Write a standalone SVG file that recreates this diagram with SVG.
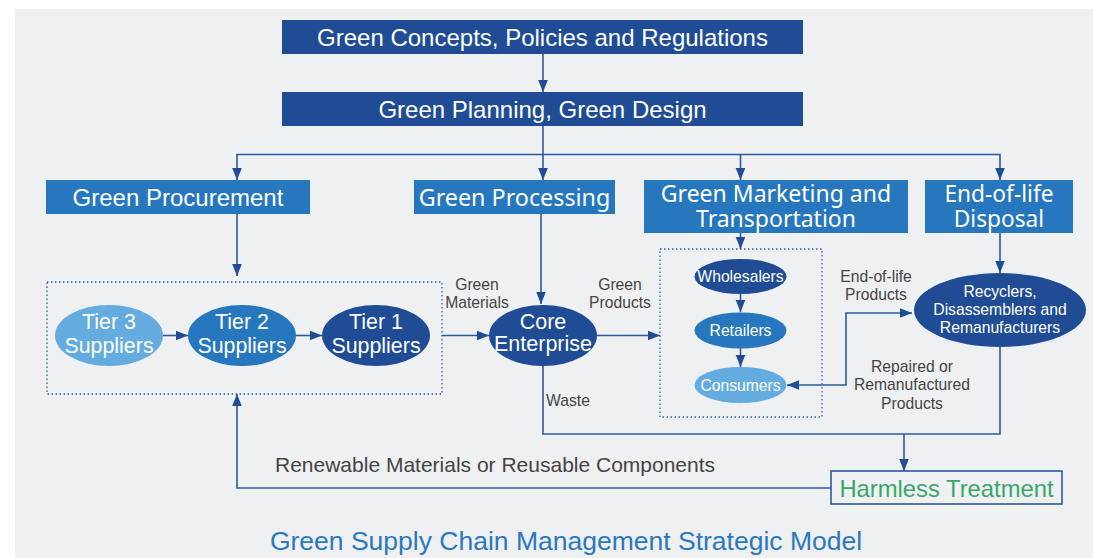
<svg xmlns="http://www.w3.org/2000/svg" width="1093" height="558" viewBox="0 0 1093 558">
<defs>
<style>
.dk{fill:#1f4c94}
.md{fill:#2677bd}
.lt{fill:#64abdf}
.wt{fill:#ffffff;font-family:"Liberation Sans",Arial,sans-serif;text-anchor:middle}
.wn{fill:#ffffff;font-family:"Noto Sans","Open Sans",sans-serif;text-anchor:middle}
.lb{fill:#444444;font-family:"Liberation Sans",Arial,sans-serif;font-size:15.7px;text-anchor:middle}
.ln{fill:none;stroke:#2c5aa0;stroke-width:1.6}
.dot{fill:none;stroke:#2c5aa0;stroke-width:1.3;stroke-dasharray:1.5 2.5}
</style>
<marker id="ahs" viewBox="0 0 10 10" refX="10" refY="5" markerWidth="12" markerHeight="12" markerUnits="userSpaceOnUse" orient="auto-start-reverse">
<path d="M0,1 L10,5 L0,9 z" fill="#1f4c94"/>
</marker>
</defs>
<rect x="15" y="9" width="1078" height="549" fill="#eff0f2"/>

<g id="connectors">
<line class="ln" x1="543" y1="54" x2="543" y2="92" marker-end="url(#ahs)"/>
<line class="ln" x1="543" y1="126" x2="543" y2="180" marker-end="url(#ahs)"/>
<path class="ln" d="M237,180 V154.5 H1000 V180" marker-start="url(#ahs)" marker-end="url(#ahs)"/>
<line class="ln" x1="740.5" y1="154.5" x2="740.5" y2="180" marker-end="url(#ahs)"/>
<line class="ln" x1="237" y1="214" x2="237" y2="276" marker-end="url(#ahs)"/>
<line class="ln" x1="541" y1="214" x2="541" y2="304" marker-end="url(#ahs)"/>
<line class="ln" x1="740.5" y1="233" x2="740.5" y2="249" marker-end="url(#ahs)"/>
<line class="ln" x1="1000" y1="233" x2="1000" y2="273" marker-end="url(#ahs)"/>
<line class="ln" x1="163" y1="335.5" x2="188" y2="335.5" marker-end="url(#ahs)"/>
<line class="ln" x1="296" y1="335.5" x2="322" y2="335.5" marker-end="url(#ahs)"/>
<line class="ln" x1="442" y1="335.5" x2="489" y2="335.5" marker-end="url(#ahs)"/>
<line class="ln" x1="597" y1="335.5" x2="660" y2="335.5" marker-end="url(#ahs)"/>
<line class="ln" x1="740.5" y1="294" x2="740.5" y2="312" marker-end="url(#ahs)"/>
<line class="ln" x1="740.5" y1="348" x2="740.5" y2="367" marker-end="url(#ahs)"/>
<path class="ln" d="M787,385 H846 V313 H912" marker-start="url(#ahs)" marker-end="url(#ahs)"/>
<path class="ln" d="M543,366 V434 H1000 V347"/>
<line class="ln" x1="904" y1="434" x2="904" y2="471" marker-end="url(#ahs)"/>
<path class="ln" d="M831,488 H237 V394" marker-end="url(#ahs)"/>
</g>

<g id="concepts">
<rect class="dk" x="282" y="20" width="521" height="34"/>
<text class="wt" x="542.5" y="46" font-size="24">Green Concepts, Policies and Regulations</text>
</g>
<g id="planning">
<rect class="dk" x="282" y="92" width="521" height="34"/>
<text class="wt" x="542.5" y="118" font-size="24">Green Planning, Green Design</text>
</g>
<g id="procurement">
<rect class="md" x="46" y="180" width="264" height="34"/>
<text class="wt" x="178" y="205.5" font-size="24">Green Procurement</text>
</g>
<g id="processing">
<rect class="md" x="414" y="180" width="201" height="34"/>
<text class="wn" x="514.5" y="205.5" font-size="23.3">Green Processing</text>
</g>
<g id="marketing">
<rect class="md" x="644" y="180" width="264" height="53"/>
<text class="wn" x="776" y="202" font-size="23">Green Marketing and</text>
<text class="wn" x="776" y="227" font-size="23">Transportation</text>
</g>
<g id="endoflife">
<rect class="md" x="925" y="180" width="148" height="53"/>
<text class="wn" x="999" y="202" font-size="22.7">End-of-life</text>
<text class="wn" x="999" y="227" font-size="22.7">Disposal</text>
</g>

<g id="suppliers-group">
<rect class="dot" x="47" y="282" width="395" height="112"/>
</g>
<g id="tier3">
<ellipse class="lt" cx="109" cy="335.5" rx="54" ry="30.5"/>
<text class="wt" x="109" y="329" font-size="21.4">Tier 3</text>
<text class="wt" x="109" y="353" font-size="21.4">Suppliers</text>
</g>
<g id="tier2">
<ellipse class="md" cx="242" cy="335.5" rx="54" ry="30.5"/>
<text class="wt" x="242" y="329" font-size="21.4">Tier 2</text>
<text class="wt" x="242" y="353" font-size="21.4">Suppliers</text>
</g>
<g id="tier1">
<ellipse class="dk" cx="376" cy="335.5" rx="54" ry="30.5"/>
<text class="wt" x="376" y="329" font-size="21.4">Tier 1</text>
<text class="wt" x="376" y="353" font-size="21.4">Suppliers</text>
</g>
<g id="core">
<ellipse class="dk" cx="543" cy="335.5" rx="54" ry="30.5"/>
<text class="wt" x="543" y="329" font-size="21.5">Core</text>
<text class="wt" x="543" y="351" font-size="21.5">Enterprise</text>
</g>

<g id="distribution-group">
<rect class="dot" x="660" y="249" width="162" height="168"/>
</g>
<g id="wholesalers">
<ellipse class="dk" cx="740.5" cy="276.5" rx="46" ry="17.5"/>
<text class="wt" x="740.5" y="282" font-size="15.7">Wholesalers</text>
</g>
<g id="retailers">
<ellipse class="md" cx="740.5" cy="330.5" rx="46" ry="18"/>
<text class="wt" x="740.5" y="336" font-size="15.7">Retailers</text>
</g>
<g id="consumers">
<ellipse class="lt" cx="740.5" cy="385" rx="46" ry="18"/>
<text class="wt" x="740.5" y="390.5" font-size="15.7">Consumers</text>
</g>
<g id="recyclers">
<ellipse class="dk" cx="1000" cy="310" rx="86" ry="37"/>
<text class="wt" x="1000" y="297" font-size="15.7">Recyclers,</text>
<text class="wt" x="1000" y="315" font-size="15.7">Disassemblers and</text>
<text class="wt" x="1000" y="333" font-size="15.7">Remanufacturers</text>
</g>
<g id="harmless">
<rect x="831" y="471" width="231" height="33" fill="#eff0f2" stroke="#2c5aa0" stroke-width="1.6"/>
<text x="946.5" y="496.5" font-size="23.8" fill="#3aa66c" font-family="Liberation Sans, Arial, sans-serif" text-anchor="middle">Harmless Treatment</text>
</g>

<g id="labels">
<text class="lb" x="477" y="290">Green</text>
<text class="lb" x="477" y="308">Materials</text>
<text class="lb" x="620" y="290">Green</text>
<text class="lb" x="620" y="308">Products</text>
<text class="lb" x="546" y="406" style="text-anchor:start">Waste</text>
<text class="lb" x="876" y="282">End-of-life</text>
<text class="lb" x="876" y="300">Products</text>
<text class="lb" x="912" y="372">Repaired or</text>
<text class="lb" x="912" y="390">Remanufactured</text>
<text class="lb" x="912" y="409">Products</text>
<text x="275" y="472" font-size="21" fill="#444444" font-family="Liberation Sans, Arial, sans-serif">Renewable Materials or Reusable Components</text>
<text x="566" y="550" font-size="26.5" fill="#2a78c0" font-family="Liberation Sans, Arial, sans-serif" text-anchor="middle">Green Supply Chain Management Strategic Model</text>
</g>
</svg>
